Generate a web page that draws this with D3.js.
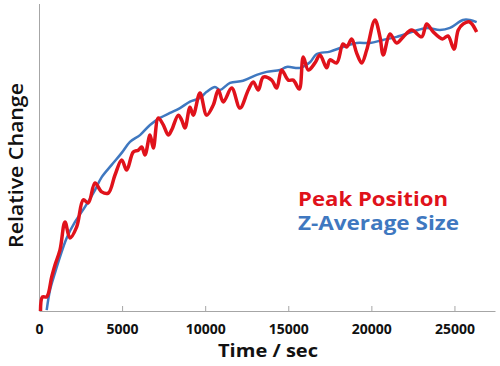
<!DOCTYPE html>
<html>
<head>
<meta charset="utf-8">
<script src="https://cdn.jsdelivr.net/npm/d3@7"></script>
<style>
  body { margin: 0; background: #fff; }
  svg { display: block; }
  text { font-family: "Open Sans", "Noto Sans", sans-serif; }
</style>
</head>
<body>
<svg id="chart" width="500" height="366"></svg>
<script>
// Time (sec) and relative change (0-100 scale)
const blueTime = [463,662,963,1264,1667,2166,2768,3370,3773,4374,4976,5475,6077,6679,7281,7882,8484,9086,9687,10090,10590,10891,11492,12275,13099,13700,14501,14904,15704,16306,16709,17509,18291,19116,19916,20698,21522,22503,23327,24128,24730,25512,25933,26336];
const blueValue = [0.3,6.8,12.4,17.6,23.8,29.0,33.9,39.4,43.6,47.6,51.5,55.1,57.3,60.6,62.9,64.5,66.1,68.2,69.4,71.4,73.0,72.0,74.3,75.0,76.9,77.9,78.5,79.5,79.2,81.0,83.7,84.5,86.0,87.3,87.3,88.3,89.3,91.0,92.2,91.5,92.2,94.8,94.8,94.1];

const redTime = [90,211,463,764,963,1264,1564,1865,2268,2666,2966,3370,3773,4170,4573,4976,5277,5674,5975,6180,6378,6679,6878,7178,7479,7780,7985,8382,8586,8785,9086,9284,9687,10090,10488,10789,11090,11595,12094,12594,12894,13195,13496,14001,14302,14603,15000,15301,15662,15903,16204,16607,16908,17311,17509,17913,18291,18514,18815,19116,19417,19718,20217,20518,20718,21119,21522,21920,22425,23027,23327,23725,24279,24610,24971,25230,25530,25873,26053,26336];
const redValue = [0,4.6,4.6,11.1,15.0,19.9,29.0,23.8,27.4,36.2,35.2,41.7,38.8,38.4,44.3,49.2,45.9,51.8,52.4,53.4,50.8,57.3,53.1,62.9,60.6,57.3,59.0,63.8,62.2,59.6,66.4,63.8,71.0,63.8,67.1,72.0,68.1,72.6,66.1,72.0,74.6,72.0,76.2,75.2,72.6,78.5,75.2,75.2,72.3,82.7,78.5,80.8,83.4,79.2,81.8,80.8,87.0,86.0,88.6,84.0,80.8,85.0,94.8,89.3,83.4,90.2,87.3,89.3,91.5,89.3,93.5,90.9,88.6,89.6,85.3,91.5,93.5,94.2,93.5,90.9];

const xTicks = [0, 5000, 10000, 15000, 20000, 25000];
const seriesNames = ["Peak Position", "Z-Average Size"];
const xTitle = "Time / sec";
const yTitle = "Relative Change";

(function () {
const svg = d3.select("#chart");
const mLeft = 39, mRight = 495, mTop = 4, mBottom = 311;

const x = d3.scaleLinear().domain([0, 27440]).range([mLeft, mRight]);
const y = d3.scaleLinear().domain([0, 100]).range([mBottom, mTop]);

const axisColor = "#a6a6a6";

// Y axis line
svg.append("line")
  .attr("x1", mLeft + 0.5).attr("x2", mLeft + 0.5)
  .attr("y1", mTop).attr("y2", mBottom)
  .attr("stroke", axisColor).attr("stroke-width", 1);

// X axis
const xAxis = d3.axisBottom(x)
  .tickValues(xTicks)
  .tickSizeInner(-5)
  .tickSizeOuter(0)
  .tickPadding(13)
  .tickFormat(d3.format("d"));

const gx = svg.append("g")
  .attr("transform", `translate(0,${mBottom})`)
  .call(xAxis);
gx.select(".domain").attr("stroke", axisColor);
gx.selectAll(".tick line").attr("stroke", axisColor);
gx.selectAll(".tick text")
  .attr("fill", "#111")
  .style("font-size", "14px")
  .style("font-weight", "700");

// Titles
svg.append("text")
  .attr("x", 268).attr("y", 357)
  .attr("text-anchor", "middle")
  .style("font-size", "17px").style("font-weight", "700")
  .attr("fill", "#111")
  .attr("textLength", 100).attr("lengthAdjust", "spacingAndGlyphs")
  .text(xTitle);

svg.append("text")
  .attr("transform", "translate(23,165.5) rotate(-90)")
  .attr("text-anchor", "middle")
  .style("font-size", "19px").style("font-weight", "600")
  .attr("fill", "#111")
  .attr("textLength", 165).attr("lengthAdjust", "spacingAndGlyphs")
  .text(yTitle);

// Lines
const blueData = blueTime.map((t, i) => [t, blueValue[i]]);
const redData = redTime.map((t, i) => [t, redValue[i]]);

const line = d3.line()
  .x(d => x(d[0]))
  .y(d => y(d[1]))
  .curve(d3.curveCatmullRom.alpha(0.5));

svg.append("path")
  .datum(blueData)
  .attr("d", line)
  .attr("fill", "none")
  .attr("stroke", "#3f78c0")
  .attr("stroke-width", 2.5)
  .attr("stroke-linejoin", "round");

svg.append("path")
  .datum(redData)
  .attr("d", line)
  .attr("fill", "none")
  .attr("stroke", "#e0121b")
  .attr("stroke-width", 3.5)
  .attr("stroke-linejoin", "round");

// Legend text
svg.append("text")
  .attr("x", 298).attr("y", 206)
  .style("font-size", "19px").style("font-weight", "700")
  .attr("fill", "#e0121b")
  .attr("textLength", 150).attr("lengthAdjust", "spacingAndGlyphs")
  .text(seriesNames[0]);

svg.append("text")
  .attr("x", 298).attr("y", 230)
  .style("font-size", "19px").style("font-weight", "700")
  .attr("fill", "#3f78c0")
  .attr("textLength", 161).attr("lengthAdjust", "spacingAndGlyphs")
  .text(seriesNames[1]);
})();
</script>
</body>
</html>
